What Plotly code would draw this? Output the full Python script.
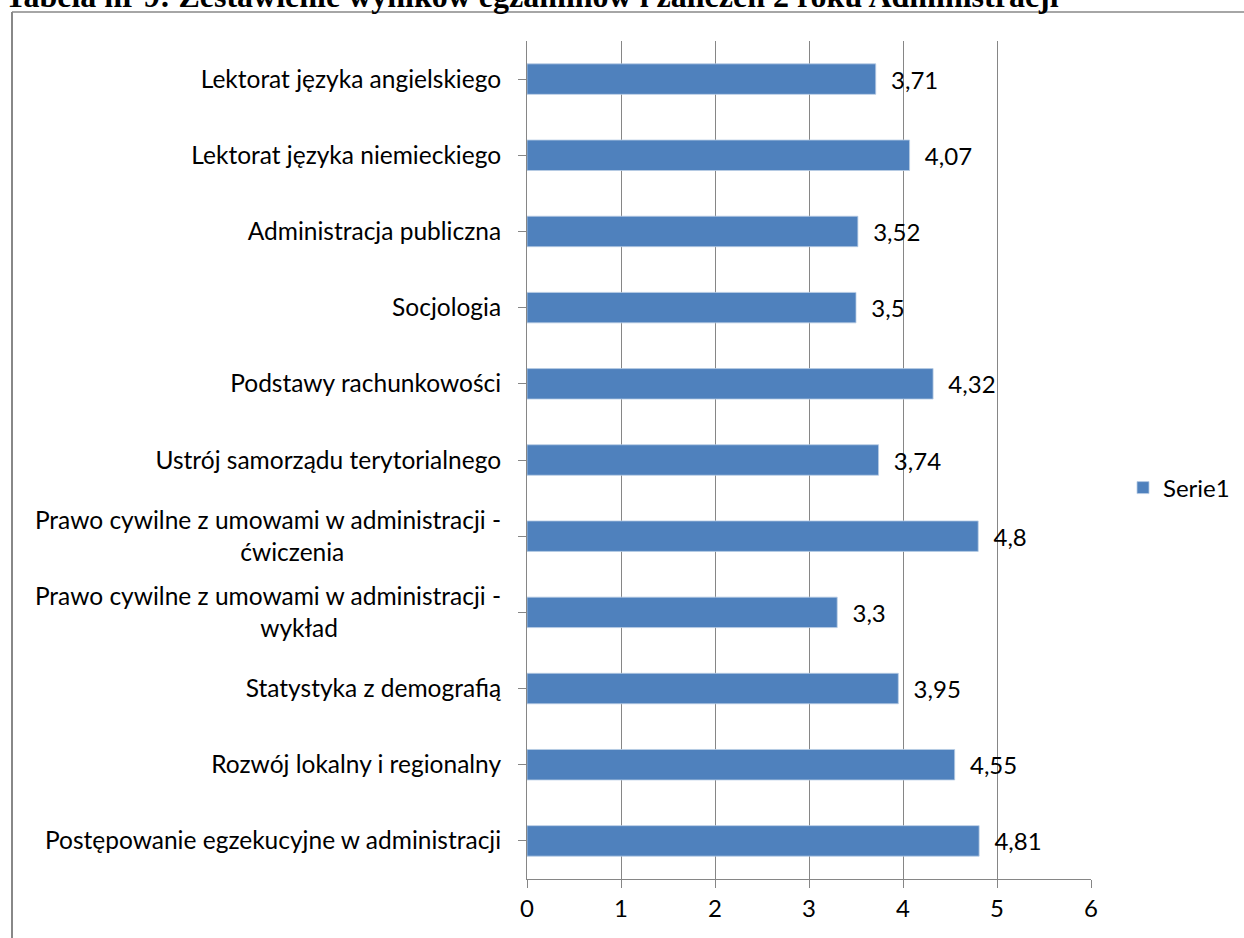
import plotly.graph_objects as go

# Categories listed bottom-to-top (Excel order)
categories = [
    "Postępowanie egzekucyjne w administracji",
    "Rozwój lokalny i regionalny",
    "Statystyka z demografią",
    "Prawo cywilne z umowami w administracji -<br>wykład",
    "Prawo cywilne z umowami w administracji -<br>ćwiczenia",
    "Ustrój samorządu terytorialnego",
    "Podstawy rachunkowości",
    "Socjologia",
    "Administracja publiczna",
    "Lektorat języka niemieckiego",
    "Lektorat języka angielskiego",
]
values = [4.81, 4.55, 3.95, 3.3, 4.8, 3.74, 4.32, 3.5, 3.52, 4.07, 3.71]
x_ticks = [0, 1, 2, 3, 4, 5, 6]
series_name = "Serie1"
title_text = "Tabela nr 9: Zestawienie wyników egzaminów i zaliczeń 2 roku Administracji"

# trailing non-breaking spaces so that the 2nd line of wrapped labels sits near the centre
second_line_pad = {"wykład": 26, "ćwiczenia": 25}

def tick_label(cat):
    if "<br>" in cat:
        first, second = cat.split("<br>")
        return first + "<br>" + second + "\u00a0" * second_line_pad.get(second, 0)
    return cat

tick_labels = [tick_label(c) for c in categories]
labels = ["\u00a0\u00a0" + (("%g" % v).replace(".", ",")) for v in values]
cat_ids = list(range(len(categories)))

W, H = 1244, 938
ml, mr, mt, mb = 527, 153, 41, 59
pw, ph = W - ml - mr, H - mt - mb

def px_x(px):
    return (px - ml) / pw

def px_y(py):
    return 1 - (py - mt) / ph

font = "Lato, 'Open Sans', sans-serif"
fs = 24.5

fig = go.Figure()
fig.add_trace(go.Bar(
    y=cat_ids, x=values, orientation="h", name=series_name,
    marker=dict(color="#4F81BD", line=dict(color="#B9CDE5", width=0.8)),
    text=labels, textposition="outside", cliponaxis=False,
    textfont=dict(family=font, size=24, color="#000000"),
    showlegend=True,
))

fig.update_layout(
    width=W, height=H,
    margin=dict(l=ml, r=mr, t=mt, b=mb, autoexpand=False),
    plot_bgcolor="white", paper_bgcolor="white",
    bargap=0.6,
    separators=", ",
    font=dict(family=font, size=fs, color="#000000"),
    xaxis=dict(
        range=[0, 6], tickvals=x_ticks, ticktext=[str(t) for t in x_ticks],
        showgrid=True, gridcolor="#868686", gridwidth=1,
        showline=True, linecolor="#868686", linewidth=1,
        ticks="outside", ticklen=8, tickcolor="#868686",
        zeroline=False, tickfont=dict(size=24), automargin=False,
    ),
    yaxis=dict(
        tickmode="array", tickvals=cat_ids, ticktext=tick_labels,
        range=[-0.5, len(categories) - 0.5],
        tickson="boundaries",
        showline=True, linecolor="#868686", linewidth=1,
        ticks="outside", ticklen=8, tickcolor="#868686",
        ticklabelstandoff=12, automargin=False,
        showgrid=False, zeroline=False, tickfont=dict(size=fs),
    ),
    legend=dict(
        x=px_x(1123), y=px_y(488), xanchor="left", yanchor="middle",
        font=dict(size=24), bgcolor="rgba(0,0,0,0)",
        itemwidth=30,
    ),
    shapes=[
        dict(type="line", xref="paper", yref="paper",
             x0=px_x(12), x1=px_x(12), y0=px_y(12), y1=px_y(H + 5),
             line=dict(color="#888888", width=2)),
        dict(type="line", xref="paper", yref="paper",
             x0=px_x(12), x1=px_x(W + 5), y0=px_y(12), y1=px_y(12),
             line=dict(color="#888888", width=1.5)),
    ],
    annotations=[
        dict(text="<b>" + title_text + "</b>", xref="paper", yref="paper",
             x=px_x(3), y=px_y(16), xanchor="left", yanchor="bottom",
             showarrow=False,
             font=dict(family="'Liberation Serif', 'Times New Roman', serif", size=32, color="#000000")),
    ],
)

fig.write_html(
    "out.html",
    config={"displayModeBar": False},
    post_script="document.body.style.margin='0';document.body.style.overflow='hidden';",
)
